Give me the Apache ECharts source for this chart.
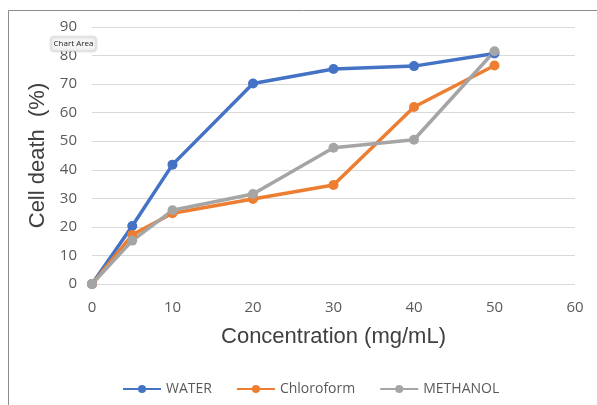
<!DOCTYPE html>
<html><head><meta charset="utf-8">
<script src="https://cdn.jsdelivr.net/npm/echarts@6/dist/echarts.min.js"></script>
<style>html,body{margin:0;padding:0;background:#fff;}#c{width:597px;height:405px;}</style>
</head><body><div id="c"></div>
<script>
const concentrations = [0, 5, 10, 20, 30, 40, 50];
const water = [0, 20.3, 41.8, 70.2, 75.3, 76.3, 80.7];
const chloroform = [0, 17.2, 24.8, 29.8, 34.7, 62, 76.5];
const methanol = [0, 15.2, 25.8, 31.5, 47.7, 50.5, 81.5];
const seriesNames = ['WATER', 'Chloroform', 'METHANOL'];
const colors = ['#4472C4', '#ED7D31', '#A5A5A5'];

function pairs(xs, ys){ return xs.map((x,i)=>[x, ys[i]]); }
const chart = echarts.init(document.getElementById('c'), null, {renderer:'canvas'});
const tickFont = {fontFamily:'Open Sans', fontSize:15, color:'#595959'};
const mk = (name, data, color) => ({
  name, type:'line', data: pairs(concentrations, data), color,
  symbol:'circle', symbolSize:10, lineStyle:{width:3.5, color}, itemStyle:{color},
  z: 2
});
chart.setOption({
  animation:false,
  graphic:[
    {type:'rect', shape:{x:8.5,y:10.5,width:600,height:400}, style:{fill:'none', stroke:'#8c8c8c', lineWidth:1}, z:-1},
    {type:'rect', shape:{x:51,y:37,width:45,height:14, r:2}, style:{fill:'#f4f4f4', stroke:'#d8d8d8', lineWidth:1, shadowBlur:3, shadowColor:'rgba(0,0,0,0.15)'}, z:100},
    {type:'text', x:73.5, y:44, style:{text:'Chart Area', fontFamily:'Open Sans', fontSize:8, fill:'#222', align:'center', verticalAlign:'middle'}, z:101}
  ],
  grid:{left:92, right:22, top:27, bottom:121},
  legend:{
    data: seriesNames, top:377, left:117, itemWidth:38, itemHeight:10, itemGap:24,
    textStyle:{fontFamily:'Open Sans', fontSize:14, color:'#595959'}
  },
  xAxis:{
    type:'value', min:0, max:60, interval:10,
    name:'Concentration (mg/mL)', nameLocation:'middle', nameGap:42,
    nameTextStyle:{fontFamily:'Liberation Sans', fontSize:22, color:'#404040'},
    axisLine:{show:false}, axisTick:{show:false}, splitLine:{show:false},
    axisLabel:Object.assign({margin:16}, tickFont)
  },
  yAxis:{
    type:'value', min:0, max:90, interval:10,
    name:'Cell death  (%)', nameLocation:'middle', nameGap:33, nameRotate:90,
    nameTextStyle:{fontFamily:'Liberation Sans', fontSize:22, color:'#404040'},
    axisLine:{show:false}, axisTick:{show:false},
    splitLine:{lineStyle:{color:'#d9d9d9', width:1}},
    axisLabel:Object.assign({margin:15}, tickFont)
  },
  series:[
    mk(seriesNames[0], water, colors[0]),
    mk(seriesNames[1], chloroform, colors[1]),
    mk(seriesNames[2], methanol, colors[2])
  ]
});
</script></body></html>
